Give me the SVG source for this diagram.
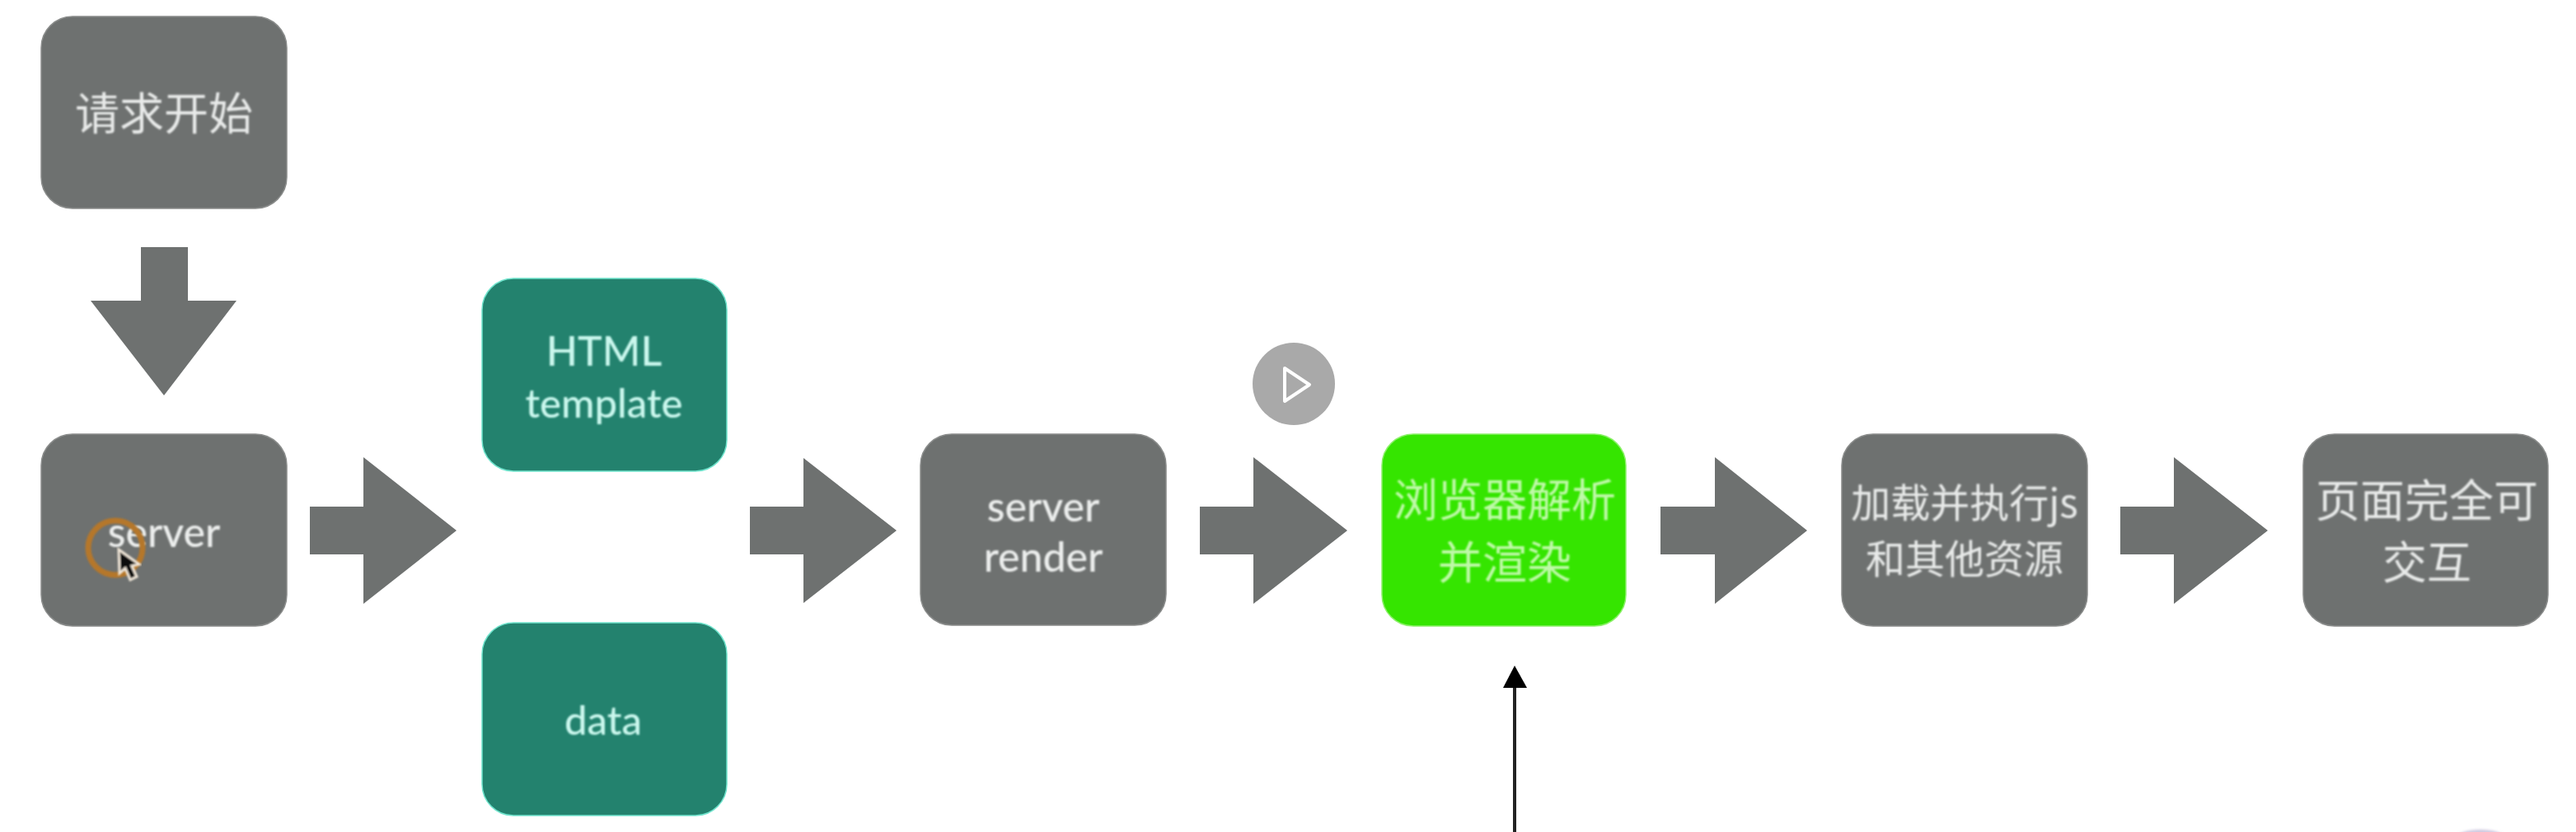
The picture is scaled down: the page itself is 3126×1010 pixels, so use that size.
<svg xmlns="http://www.w3.org/2000/svg" width="3126" height="1010" viewBox="0 0 3126 1010">
<defs>
<filter id="soft" x="-10%" y="-10%" width="120%" height="120%"><feGaussianBlur stdDeviation="0.8"/></filter>
<filter id="soft2" x="-20%" y="-20%" width="140%" height="140%"><feGaussianBlur stdDeviation="1.4"/></filter>
</defs>
<style>
.box{stroke-width:1.5}
.grey{fill:#6e7170;stroke:#8a8c8b}
.teal{fill:#23826e;stroke:#6fe3cc}
.green{fill:#35e500;stroke:#8cf06a}
.arrow{fill:#6e7170}
text{text-anchor:middle;font-family:"Lato","Liberation Sans",sans-serif;filter:url(#soft)}
.cjk{font-family:"Noto Sans CJK SC",sans-serif;font-size:54px;font-weight:400;fill:#e8eae9}
.s48{font-size:48px}
.lat{font-size:50px;fill:#eceeed;font-weight:500}
.tl{font-size:49px;fill:#cbf8ee;font-weight:500}
.gl{fill:#bff9a8}
</style>
<rect width="3126" height="1010" fill="#fff"/>
<g id="connectors">
<path id="a1" class="arrow" d="M171 300H228V365H287L199 480L110 365H171Z"/>
<path id="a2" class="arrow" d="M376 615H441V555L554 644L441 733V673H376Z"/>
<path id="a3" class="arrow" d="M910 615H975V556L1088 644L975 732V673H910Z"/>
<path id="a4" class="arrow" d="M1456 615H1521V555L1635 644L1521 733V673H1456Z"/>
<path id="a5" class="arrow" d="M2015 615H2081V555L2193 644L2081 733V673H2015Z"/>
<path id="a6" class="arrow" d="M2573 615H2638V555L2752 644L2638 733V673H2573Z"/>
<g id="a7"><line x1="1838" y1="830" x2="1838" y2="1010" stroke="#222" stroke-width="4"/><path d="M1838 808L1853 835H1824Z" fill="#000"/></g>
</g>
<g id="n-start"><rect class="box grey" x="50" y="20" width="298" height="233" rx="38"/><text class="cjk" x="199" y="158">请求开始</text></g>
<g id="n-server"><rect class="box grey" x="50" y="527" width="298" height="233" rx="38"/><text class="lat" x="199" y="664">server</text></g>
<g id="n-html"><rect class="box teal" x="585" y="338" width="297" height="234" rx="38"/><text class="tl" style="font-size:50px" x="733" y="444">HTML</text><text class="tl" x="733" y="507">template</text></g>
<g id="n-data"><rect class="box teal" x="585" y="756" width="297" height="234" rx="38"/><text class="tl" style="font-size:49px" x="732" y="892">data</text></g>
<g id="n-render"><rect class="box grey" x="1117" y="527" width="298" height="232" rx="38"/><text class="lat" x="1266" y="633">server</text><text class="lat" x="1266" y="694">render</text></g>
<g id="n-parse"><rect class="box green" x="1677" y="527" width="296" height="233" rx="38"/><text class="cjk gl" x="1826" y="627">浏览器解析</text><text class="cjk gl" x="1826" y="703">并渲染</text></g>
<g id="n-load"><rect class="box grey" x="2235" y="527" width="298" height="233" rx="38"/><text class="cjk s48" x="2384" y="628">加载并执行js</text><text class="cjk s48" x="2384" y="696">和其他资源</text></g>
<g id="n-done"><rect class="box grey" x="2795" y="527" width="297" height="233" rx="38"/><text class="cjk" x="2945" y="628">页面完全可</text><text class="cjk" x="2945" y="703">交互</text></g>
<g id="cursor">
<circle cx="140" cy="665" r="33" fill="none" stroke="#b5772a" stroke-width="7" filter="url(#soft)"/>
<path d="M144 667L145 696L152 690L158 704L166 700L160 687L169 685Z" fill="#111" stroke="#f0e6d8" stroke-width="3" filter="url(#soft)"/>
</g>
<g id="play">
<circle cx="1570" cy="466" r="50" fill="#a9a9a9"/>
<path d="M1559 447L1589 467L1559 487Z" fill="none" stroke="#fff" stroke-width="4" stroke-linejoin="round"/>
</g>
<ellipse cx="3010" cy="1016" rx="28" ry="9" fill="#cfc9e0" filter="url(#soft2)"/>
</svg>
